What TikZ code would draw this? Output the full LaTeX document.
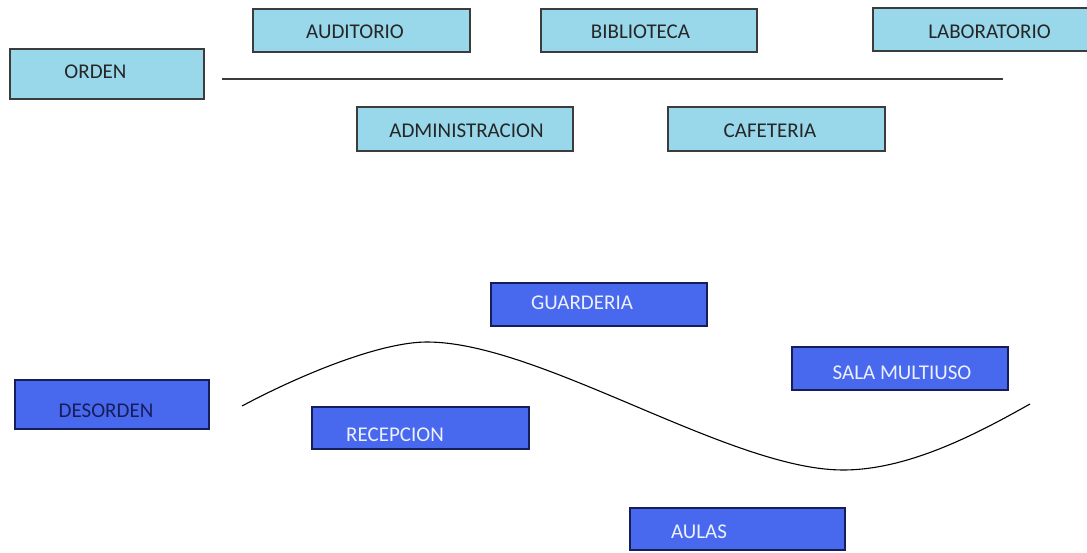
\documentclass[tikz,border=0pt]{standalone}
\usepackage{fontspec}
\setmainfont{Carlito}
\definecolor{lightbox}{RGB}{152,216,234}
\definecolor{bluebox}{RGB}{72,104,238}
\definecolor{navytext}{RGB}{22,30,90}
\definecolor{whitetext}{RGB}{236,240,255}
\definecolor{linegray}{RGB}{60,60,60}
\begin{document}
\begin{tikzpicture}[x=1pt,y=-1pt,
  lbox/.style={draw=linegray, line width=1.3pt, fill=lightbox, rectangle, inner sep=0pt, outer sep=0pt},
  bbox/.style={draw=navytext, line width=1.3pt, fill=bluebox, rectangle, inner sep=0pt, outer sep=0pt},
  ltext/.style={font=\fontsize{21}{25}\selectfont, text=black!85, inner sep=0pt},
  btext/.style={font=\fontsize{21}{25}\selectfont, text=whitetext, inner sep=0pt},
  dtext/.style={font=\fontsize{21}{25}\selectfont, text=navytext, inner sep=0pt},
  curve/.style={draw=black, line width=1.1pt}
]
\useasboundingbox[fill=white] (0,0) rectangle (1087,553);
\newcommand{\boxat}[6]{\node[#1, minimum width=#4-#2, minimum height=#5-#3, anchor=north west] (#6) at (#2,#3) {};}
% light boxes
\boxat{lbox}{10}{49}{204}{99}{orden}
\boxat{lbox}{253}{9}{470}{52}{auditorio}
\boxat{lbox}{541}{9}{757}{52}{biblioteca}
\boxat{lbox}{873}{8}{1094}{51}{laboratorio}
\boxat{lbox}{357}{107}{573}{151}{administracion}
\boxat{lbox}{668}{107}{885}{151}{cafeteria}
% blue boxes
\boxat{bbox}{491}{283}{707}{326}{guarderia}
\boxat{bbox}{792}{347}{1008}{390}{sala}
\boxat{bbox}{15}{380}{209}{429}{desorden}
\boxat{bbox}{312}{407}{529}{449}{recepcion}
\boxat{bbox}{630}{508}{845}{550}{aulas}
% texts
\node[ltext] (t-orden) at (95.5,72) {ORDEN};
\node[ltext] (t-auditorio) at (355,32) {AUDITORIO};
\node[ltext] (t-biblioteca) at (640.5,32) {BIBLIOTECA};
\node[ltext] (t-laboratorio) at (989.5,32) {LABORATORIO};
\node[ltext] (t-administracion) at (466.5,131) {ADMINISTRACION};
\node[ltext] (t-cafeteria) at (770,131) {CAFETERIA};
\node[btext] (t-guarderia) at (582,303) {GUARDERIA};
\node[btext] (t-sala) at (902,373) {SALA MULTIUSO};
\node[dtext] (t-desorden) at (106,411) {DESORDEN};
\node[btext] (t-recepcion) at (395,435) {RECEPCION};
\node[btext] (t-aulas) at (699,532) {AULAS};
% order line
\coordinate (l1) at (222,79);
\coordinate (l2) at (1003,79);
\draw[linegray, line width=1.6pt] (l1) -- (l2);
% disorder curve
\coordinate (c1) at (242,406);
\coordinate (c2) at (427,342);
\coordinate (c3) at (843,470);
\coordinate (c4) at (1030,404);
\draw[curve] (c1) .. controls (300,375) and (380,342) .. (c2)
  .. controls (540,342) and (730,470) .. (c3)
  .. controls (910,470) and (980,432) .. (c4);
\end{tikzpicture}
\end{document}
